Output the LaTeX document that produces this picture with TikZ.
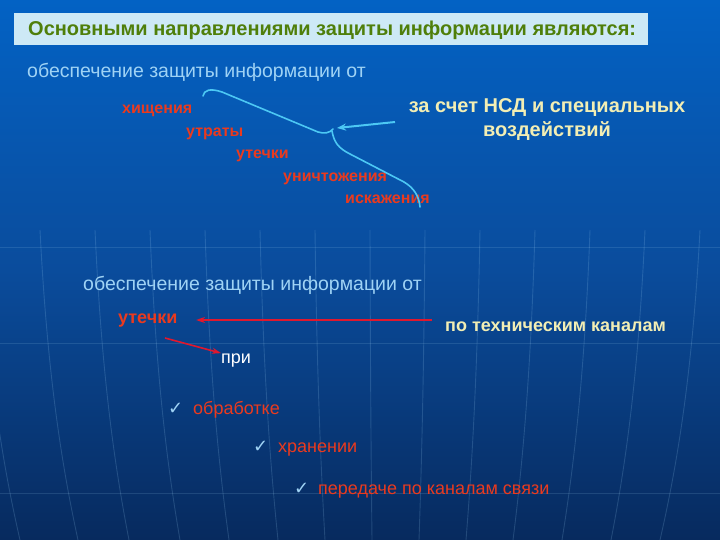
\documentclass[tikz,border=0pt]{standalone}
\usepackage{fontspec}
\setmainfont{Liberation Sans}
\newfontfamily\symfont{DejaVu Sans}
\usetikzlibrary{arrows.meta}

\definecolor{bgtop}{HTML}{0362C4}
\definecolor{bgmid}{HTML}{0A4C9C}
\definecolor{bgbot}{HTML}{072A5E}
\definecolor{titlebg}{HTML}{CDE9F6}
\definecolor{titletxt}{HTML}{4F7F0A}
\definecolor{lblue}{HTML}{9FD3F5}
\definecolor{redtxt}{HTML}{EA3A1E}
\definecolor{yeltxt}{HTML}{F2EEB4}
\definecolor{cyanline}{HTML}{4CC8F4}
\definecolor{redline}{HTML}{E0182E}

\tikzset{
  txt/.style={anchor=base west, inner sep=0pt},
  lead/.style={txt, text=lblue, font=\fontsize{19.5}{22}\selectfont},
  item/.style={txt, text=redtxt, font=\bfseries\fontsize{16}{18}\selectfont},
  means/.style={anchor=base, inner sep=0pt, text=yeltxt, font=\bfseries\fontsize{20}{23}\selectfont},
  tick/.style={txt, text=lblue, font=\symfont\fontsize{18}{20}\selectfont},
  mode/.style={txt, text=redtxt, font=\fontsize{18}{21}\selectfont}
}

\begin{document}
\begin{tikzpicture}[x=1pt,y=-1pt]
% background
\shade[top color=bgtop, bottom color=bgbot, middle color=bgmid] (0,0) rectangle (720,540);
\useasboundingbox (0,0) rectangle (720,540);
\foreach \y in {247,343,493}
  \draw[lblue, opacity=0.15, line width=0.8pt] (0,\y) -- (720,\y);
\foreach \x/\d in {-20/40,40/38,95/34,150/30,205/24,260/18,315/10,370/2,425/-6,480/-14,535/-22,590/-28,645/-34,700/-40}
  \draw[lblue, opacity=0.18, line width=0.9pt] (\x,230) .. controls (\x+0.2*\d,380) and (\x+0.6*\d,470) .. (\x+\d,540);

% title
\node(t) [fill=titlebg, minimum width=634pt, minimum height=32pt, inner sep=0pt, anchor=north west] at (14,13) {};
\node(tt) [txt, text=titletxt, font=\bfseries\fontsize{20}{23}\selectfont] at (28,36) {Основными направлениями защиты информации являются:};

% first group
\node(l1) [lead] at (27,78) {обеспечение защиты информации от};
\node(a) [item] at (122,114) {хищения};
\node(b) [item] at (186,137) {утраты};
\node(c) [item] at (236,159) {утечки};
\node(d) [item] at (283,182) {уничтожения};
\node(e) [item] at (345,204) {искажения};
\node(m1) [means] at (547,113) {за счет НСД и специальных};
\node(m2) [means] at (547,137) {воздействий};
\coordinate(p) at (395,122);
\coordinate(q) at (337,128);

\draw[cyanline, line width=1.6pt, line cap=round] (203,96) .. controls (204,90) and (210,88) .. (222,92)
  -- (318,132) .. controls (324,134) and (330,133) .. (333,129);
\draw[cyanline, line width=1.6pt, line cap=round] (332,131) .. controls (334,142) and (338,148) .. (350,154)
  -- (404,182) .. controls (414,188) and (419,196) .. (420,207);
\draw[-{Stealth[length=9pt,width=7pt]}, cyanline, line width=2pt] (p) -- (q);

% second group
\node(l2) [lead] at (83,290) {обеспечение защиты информации от};
\node(f) [txt, text=redtxt, font=\bfseries\fontsize{18}{21}\selectfont] at (118,323) {утечки};
\node(g) [txt, text=yeltxt, font=\bfseries\fontsize{18}{21}\selectfont] at (445,331) {по техническим каналам};
\node(h) [txt, text=white, font=\fontsize{18}{21}\selectfont] at (221,363) {при};
\coordinate(r) at (432,320);
\coordinate(s) at (196,320);
\coordinate(u) at (165,338);

\draw[-{Stealth[length=9pt,width=6pt]}, redline, line width=1.6pt] (r) -- (s);
\draw[-{Stealth[length=9pt,width=6pt]}, redline, line width=1.6pt] (u) -- (h.north west);

\node(k1) [tick] at (168,414) {✓};
\node(n1) [mode] at (193,414) {обработке};
\node(k2) [tick] at (253,452) {✓};
\node(n2) [mode] at (278,452) {хранении};
\node(k3) [tick] at (294,494) {✓};
\node(n3) [mode] at (318,494) {передаче по каналам связи};
\end{tikzpicture}
\end{document}
